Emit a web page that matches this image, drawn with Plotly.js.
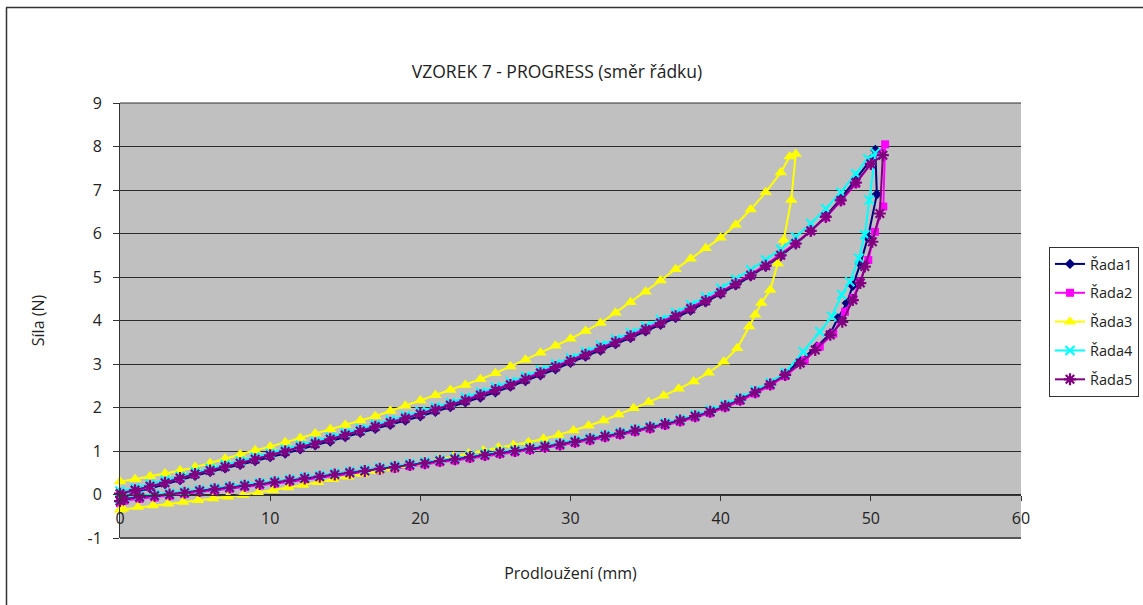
<!DOCTYPE html>
<html>
<head>
<meta charset="utf-8">
<script src="https://cdn.plot.ly/plotly-3.0.1.min.js"></script>
<style>html,body{margin:0;padding:0;background:#fff;}#chart{width:1143px;height:605px;}</style>
</head>
<body>
<div id="chart"></div>
<script>
// ---- Data ----
const seriesNames = ["Řada1", "Řada2", "Řada3", "Řada4", "Řada5"];
const yTickVals = [-1,0,1,2,3,4,5,6,7,8,9];
const yTickLabels = ["-1","0","1","2","3","4","5","6","7","8","9"];

// shared loading x positions (mm) for Řada1,2,4,5
const xLoad = [0,1,2,3,4,5,6,7,8,9,10,11,12,13,14,15,16,17,18,19,20,21,22,23,24,25,26,27,28,29,30,31,32,33,34,35,36,37,38,39,40,41,42,43,44,45,46,47,48,49];
// shared unloading x positions (mm) for Řada1,2,4,5
const xUnload = [44.3,43.3,42.3,41.3,40.3,39.3,38.3,37.3,36.3,35.3,34.3,33.3,32.3,31.3,30.3,29.3,28.3,27.3,26.3,25.3,24.3,23.3,22.3,21.3,20.3,19.3,18.3,17.3,16.3,15.3,14.3,13.3,12.3,11.3,10.3,9.3,8.3,7.3,6.3,5.3,4.3,3.3,2.3,1.3,0.3,0];

// Řada1
const r1LoadY = [0.0,0.06,0.14,0.24,0.33,0.43,0.52,0.6,0.68,0.77,0.86,0.94,1.04,1.13,1.22,1.32,1.42,1.51,1.6,1.7,1.8,1.9,2.01,2.12,2.23,2.35,2.48,2.61,2.74,2.88,3.03,3.17,3.31,3.46,3.6,3.75,3.9,4.06,4.23,4.42,4.61,4.81,5.02,5.24,5.48,5.76,6.06,6.4,6.8,7.25];
const r1PeakX = [50,50.3,50.4,49.8,49.3,48.8,48.4,47.8,47.3,46.4,45.3];
const r1PeakY = [7.7,7.92,6.9,5.9,5.3,4.8,4.4,4.05,3.7,3.4,3.07];
const r1UnloadY = [2.78,2.55,2.36,2.2,2.05,1.91,1.8,1.71,1.62,1.55,1.47,1.41,1.33,1.28,1.2,1.14,1.1,1.04,0.99,0.95,0.9,0.85,0.8,0.76,0.71,0.67,0.62,0.58,0.53,0.49,0.45,0.4,0.36,0.31,0.27,0.23,0.19,0.15,0.11,0.07,0.03,-0.01,-0.04,-0.08,-0.12,-0.05];

// Řada2
const r2LoadY = [-0.05,0.08,0.18,0.28,0.37,0.47,0.57,0.65,0.74,0.83,0.91,1.01,1.1,1.19,1.29,1.39,1.49,1.58,1.68,1.78,1.88,1.98,2.08,2.19,2.31,2.43,2.55,2.68,2.82,2.96,3.1,3.24,3.38,3.52,3.67,3.82,3.97,4.13,4.3,4.48,4.66,4.86,5.06,5.28,5.52,5.78,6.06,6.37,6.74,7.14];
const r2PeakX = [50,50.95,50.83,50.28,49.83,49.28,48.83,48.28,47.5,46.6,45.6];
const r2PeakY = [7.6,8.05,6.62,6.04,5.39,4.89,4.52,4.2,3.7,3.4,3.08];
const r2UnloadY = [2.72,2.5,2.32,2.15,2.0,1.87,1.77,1.67,1.59,1.51,1.44,1.37,1.31,1.24,1.18,1.12,1.07,1.02,0.97,0.93,0.88,0.83,0.78,0.74,0.69,0.65,0.6,0.56,0.51,0.47,0.43,0.38,0.34,0.29,0.25,0.21,0.17,0.13,0.09,0.05,0.01,-0.03,-0.07,-0.1,-0.14,-0.2];

// Řada3 (own x positions)
const r3LoadX = [0,1,2,3,4,5,6,7,8,9,10,11,12,13,14,15,16,17,18,19,20,21,22,23,24,25,26,27,28,29,30,31,32,33,34,35,36,37,38,39,40,41,42,43,44,44.6,45.0];
const r3LoadY = [0.3,0.35,0.42,0.48,0.55,0.63,0.72,0.82,0.92,1.02,1.1,1.2,1.3,1.4,1.5,1.6,1.7,1.8,1.92,2.04,2.16,2.28,2.4,2.52,2.65,2.79,2.94,3.1,3.26,3.42,3.58,3.76,3.94,4.18,4.42,4.66,4.92,5.18,5.42,5.66,5.9,6.2,6.55,6.95,7.4,7.77,7.83];
const r3UnloadX = [44.7,44.2,43.8,43.3,42.7,42.3,41.9,41.1,40.2,39.2,38.2,37.2,36.2,35.2,34.2,33.2,32.2,31.2,30.2,29.2,28.2,27.2,26.2,25.2,24.2,23.2,22.2,21.2,20.2,19.2,18.2,17.2,16.2,15.2,14.2,13.2,12.2,11.2,10.2,9.2,8.2,7.2,6.2,5.2,4.2,3.2,2.2,1.2,0.2,0];
const r3UnloadY = [6.77,5.85,5.31,4.7,4.4,4.13,3.86,3.36,3.05,2.8,2.6,2.43,2.27,2.12,1.98,1.84,1.7,1.58,1.47,1.37,1.28,1.2,1.14,1.08,1.01,0.94,0.87,0.8,0.73,0.67,0.6,0.54,0.47,0.41,0.35,0.28,0.22,0.16,0.1,0.04,-0.01,-0.05,-0.09,-0.13,-0.17,-0.21,-0.25,-0.29,-0.33,-0.35];

// Řada4
const r4LoadY = [0.08,0.15,0.24,0.33,0.42,0.52,0.6,0.69,0.77,0.86,0.95,1.04,1.13,1.22,1.32,1.42,1.51,1.61,1.71,1.81,1.91,2.01,2.11,2.23,2.35,2.47,2.59,2.72,2.86,3.0,3.14,3.28,3.43,3.57,3.72,3.87,4.02,4.18,4.36,4.54,4.74,4.95,5.16,5.39,5.64,5.92,6.23,6.57,6.95,7.37];
const r4PeakX = [49.8,50.3,49.9,49.6,49.2,48.6,48.06,47.4,46.6,45.5];
const r4PeakY = [7.72,7.85,6.77,5.97,5.43,4.89,4.59,4.09,3.74,3.28];
const r4UnloadY = [2.8,2.57,2.39,2.22,2.07,1.94,1.83,1.73,1.65,1.57,1.5,1.43,1.37,1.3,1.24,1.18,1.13,1.08,1.03,0.99,0.94,0.89,0.84,0.8,0.75,0.71,0.66,0.62,0.57,0.53,0.49,0.44,0.4,0.35,0.31,0.27,0.23,0.19,0.15,0.11,0.07,0.03,0.0,-0.03,-0.07,-0.1];

// Řada5
const r5LoadY = [0.02,0.1,0.19,0.27,0.38,0.47,0.55,0.64,0.72,0.81,0.9,0.99,1.08,1.17,1.27,1.37,1.46,1.56,1.65,1.75,1.85,1.95,2.05,2.16,2.28,2.4,2.52,2.65,2.79,2.93,3.07,3.21,3.35,3.5,3.64,3.79,3.94,4.1,4.27,4.45,4.64,4.84,5.04,5.26,5.5,5.77,6.06,6.38,6.76,7.17];
const r5PeakX = [50,50.8,50.6,50.1,49.6,49.3,48.8,48.1,47.3,46.3,45.3];
const r5PeakY = [7.6,7.8,6.46,5.81,5.24,4.86,4.47,3.97,3.67,3.32,3.02];
const r5UnloadY = [2.75,2.53,2.35,2.18,2.03,1.9,1.8,1.7,1.62,1.54,1.47,1.4,1.34,1.27,1.21,1.15,1.1,1.05,1.0,0.96,0.91,0.86,0.81,0.77,0.72,0.68,0.63,0.59,0.54,0.5,0.46,0.41,0.37,0.32,0.28,0.24,0.2,0.16,0.12,0.08,0.04,0.0,-0.03,-0.06,-0.1,-0.15];

// ---- Build traces ----
const styles = [
  {color:"#000080", symbol:"diamond", size:8},
  {color:"#FF00FF", symbol:"square", size:8},
  {color:"#FFFF00", symbol:"triangle-up", size:11},
  {color:"#00FFFF", symbol:"x-thin", size:9},
  {color:"#800080", symbol:"asterisk", size:10}
];
const xs = [
  xLoad.concat(r1PeakX, xUnload),
  xLoad.concat(r2PeakX, xUnload),
  r3LoadX.concat(r3UnloadX),
  xLoad.concat(r4PeakX, xUnload),
  xLoad.concat(r5PeakX, xUnload)
];
const ys = [
  r1LoadY.concat(r1PeakY, r1UnloadY),
  r2LoadY.concat(r2PeakY, r2UnloadY),
  r3LoadY.concat(r3UnloadY),
  r4LoadY.concat(r4PeakY, r4UnloadY),
  r5LoadY.concat(r5PeakY, r5UnloadY)
];
const traces = seriesNames.map((n, i) => {
  const s = styles[i];
  const open = (s.symbol === "x-thin" || s.symbol === "asterisk");
  return {
    type: "scatter", mode: "lines+markers", name: n,
    x: xs[i], y: ys[i], cliponaxis: false,
    legendgroup: "g" + i,
    line: {color: s.color, width: 2},
    marker: {symbol: s.symbol, size: s.size, color: s.color,
             line: open ? {color: s.color, width: 2.2} : {width: 0}}
  };
});

// ---- Layout ----
const L = 120, R = 1021, T = 103, B = 538;
const pw = R - L, ph = B - T;
const px = v => (v - L) / pw;
const py = v => (B - v) / ph;
const font = "Open Sans, Noto Sans, DejaVu Sans, sans-serif";
const layout = {
  width: 1143, height: 605,
  margin: {l: L, r: 1143 - R, t: T, b: 605 - B, autoexpand: false},
  paper_bgcolor: "#ffffff", plot_bgcolor: "#C0C0C0",
  font: {family: font, size: 15, color: "#222"},
  showlegend: true,
  title: {text: "VZOREK 7 - PROGRESS (směr řádku)", font: {size: 17.5, color: "#222"},
          xref: "paper", x: px(557), xanchor: "center", yref: "container", y: 1 - 72/605, yanchor: "middle"},
  xaxis: {
    range: [0, 60], dtick: 10, tick0: 0,
    anchor: "free", position: 0.1,
    showgrid: false, zeroline: false,
    showline: true, linecolor: "#333", linewidth: 1,
    ticks: "outside", ticklen: 5, tickcolor: "#333",
    ticklabelstandoff: 4,
    tickfont: {size: 16, color: "#222"},
    title: {text: "Prodloužení (mm)", font: {size: 16, color: "#222"}, standoff: 40}
  },
  yaxis: {
    range: [-1, 9], tickmode: "array", tickvals: yTickVals, ticktext: yTickLabels,
    showgrid: true, gridcolor: "#2a2a2a", gridwidth: 1,
    zeroline: false,
    showline: true, linecolor: "#333", linewidth: 1,
    ticks: "outside", ticklen: 6, tickcolor: "#333",
    ticklabelstandoff: 8,
    tickfont: {size: 16, color: "#222"},
    title: {text: "Síla (N)", font: {size: 16, color: "#222"}, standoff: 38}
  },
  legend: {
    x: px(1049), xanchor: "left", y: py(247), yanchor: "top",
    bgcolor: "#ffffff", bordercolor: "#333", borderwidth: 1,
    font: {size: 14.5, color: "#222"}, tracegroupgap: 7, itemwidth: 30
  },
  shapes: [
    {type: "line", xref: "paper", yref: "paper", x0: px(6.5), x1: px(6.5), y0: py(7.5), y1: py(620), line: {color: "#333", width: 1.5}},
    {type: "line", xref: "paper", yref: "paper", x0: px(6), x1: px(1160), y0: py(7.5), y1: py(7.5), line: {color: "#333", width: 1.5}},
    {type: "line", xref: "paper", yref: "paper", x0: 0, x1: 1, y0: 1, y1: 1, line: {color: "#333", width: 1}, layer: "below"},
    {type: "line", xref: "paper", yref: "paper", x0: 0, x1: 1, y0: 0, y1: 0, line: {color: "#555", width: 2}, layer: "below"}
  ]
};
Plotly.newPlot("chart", traces, layout, {displayModeBar: false, staticPlot: true});
</script>
</body>
</html>
